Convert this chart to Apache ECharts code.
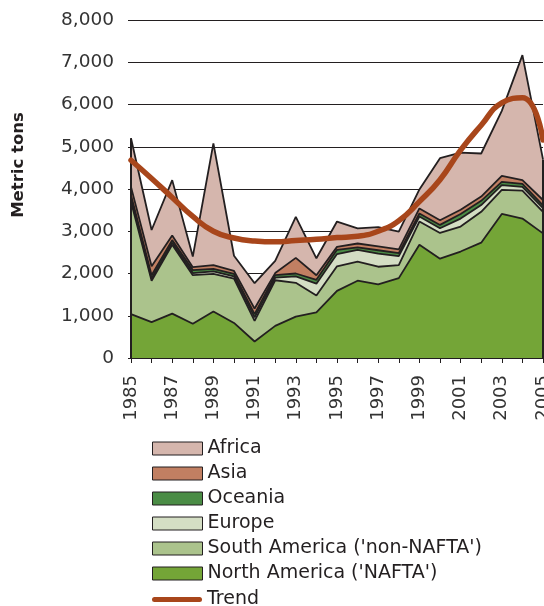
<!DOCTYPE html>
<html>
<head>
<meta charset="utf-8">
<script src="https://cdn.jsdelivr.net/npm/echarts@6/dist/echarts.min.js"></script>
<style>
html,body{margin:0;padding:0;background:#fff;}
#chart{width:544px;height:606px;}
</style>
</head>
<body>
<div id="chart"></div>
<script>
const years = ['1985','1986','1987','1988','1989','1990','1991','1992','1993','1994','1995','1996','1997','1998','1999','2000','2001','2002','2003','2004','2005'];
const northAmerica = [1040, 850, 1050, 810, 1100, 830, 390, 760, 980, 1080, 1590, 1830, 1740, 1890, 2680, 2350, 2520, 2730, 3410, 3300, 2950];
const southAmerica = [2660, 980, 1630, 1150, 890, 1050, 490, 1080, 800, 400, 580, 450, 420, 310, 550, 610, 590, 730, 570, 660, 510];
const europe = [80, 50, 50, 50, 60, 50, 80, 60, 150, 280, 290, 280, 310, 210, 120, 110, 190, 160, 110, 90, 90];
const oceania = [80, 80, 60, 70, 60, 60, 80, 60, 70, 90, 100, 60, 80, 70, 70, 80, 110, 100, 80, 70, 60];
const asia = [190, 210, 110, 70, 90, 70, 130, 50, 370, 110, 70, 90, 90, 90, 120, 110, 100, 100, 140, 90, 130];
const africa = [1150, 860, 1310, 250, 2880, 360, 600, 290, 970, 400, 600, 360, 460, 420, 450, 1470, 1350, 1020, 1540, 2960, 960];
const trend = [4680, 4250, 3800, 3350, 3000, 2840, 2770, 2750, 2780, 2810, 2850, 2880, 3000, 3250, 3700, 4220, 4920, 5510, 6040, 6160, 5160];
const yTicks = [0, 1000, 2000, 3000, 4000, 5000, 6000, 7000, 8000];

const FONT = 'DejaVu Sans';
const OUTLINE = '#231f20';
const colors = {
  africa: '#d5b6ad', asia: '#c17f62', oceania: '#4a8c45',
  europe: '#d4dec4', southAmerica: '#abc38c', northAmerica: '#74a537', trend: '#a8461b'
};

function areaSeries(name, data, color) {
  return {
    name: name, type: 'line', stack: 'total', data: data,
    symbol: 'none', smooth: false,
    lineStyle: { color: OUTLINE, width: 1.8 },
    itemStyle: { color: color, borderColor: OUTLINE },
    areaStyle: { color: color, opacity: 1 },
    emphasis: { disabled: true },
    z: 2
  };
}

const layers = [northAmerica, southAmerica, europe, oceania, asia, africa];
const totals = years.map((_, i) => layers.reduce((s, a) => s + a[i], 0));
const edges = [[0, totals[0]], [years.length - 1, totals[years.length - 1]]];

const legendText = { fontFamily: FONT, fontSize: 19, color: '#231f20' };
function rectItem(name, color) {
  return { name: name, icon: 'rect', itemStyle: { color: color, borderColor: OUTLINE, borderWidth: 1 } };
}

const chart = echarts.init(document.getElementById('chart'), null, { renderer: 'canvas' });
chart.setOption({
  animation: false,
  backgroundColor: '#fff',
  grid: { left: 131, right: 1, top: 20, bottom: 248, containLabel: false, outerBoundsMode: 'none' },
  xAxis: {
    type: 'category', data: years, boundaryGap: false,
    axisLine: { show: true, lineStyle: { color: OUTLINE, width: 1.5 } },
    axisTick: { show: true, length: 5, interval: 0, lineStyle: { color: OUTLINE, width: 1 } },
    axisLabel: { rotate: 90, interval: 1, margin: 17, fontFamily: FONT, fontSize: 18, color: '#333' },
    splitLine: { show: false }
  },
  yAxis: {
    type: 'value', min: yTicks[0], max: yTicks[yTicks.length - 1], interval: 1000,
    axisLine: { show: false },
    axisTick: { show: true, length: 3, lineStyle: { color: OUTLINE, width: 1 } },
    axisLabel: { margin: 17, fontFamily: FONT, fontSize: 18.5, color: '#333',
      formatter: v => v.toLocaleString('en-US') },
    splitLine: { show: true, lineStyle: { color: OUTLINE, width: 1 } }
  },
  graphic: [{
    type: 'text', x: 19, y: 165, rotation: Math.PI / 2, silent: true,
    style: { text: 'Metric tons', fontFamily: FONT, fontSize: 16.5, fontWeight: 'bold',
      fill: '#231f20', align: 'center', verticalAlign: 'middle' }
  }],
  legend: [{
    orient: 'vertical', left: 147, top: 434, itemGap: 6,
    itemWidth: 50, itemHeight: 13, textStyle: legendText, selectedMode: false,
    data: [
      rectItem('Africa', colors.africa),
      rectItem('Asia', colors.asia),
      rectItem('Oceania', colors.oceania),
      rectItem('Europe', colors.europe),
      rectItem("South America ('non-NAFTA')", colors.southAmerica),
      rectItem("North America ('NAFTA')", colors.northAmerica)
    ]
  }, {
    orient: 'vertical', left: 147, top: 585,
    itemWidth: 50, itemHeight: 13, textStyle: legendText, selectedMode: false,
    data: [
      { name: 'Trend', icon: 'path://M2.5,0 L47.5,0 A2.5,2.5 0 0 1 47.5,5 L2.5,5 A2.5,2.5 0 0 1 2.5,0 Z', itemStyle: { color: colors.trend, borderWidth: 0 } }
    ]
  }],
  series: [
    areaSeries("North America ('NAFTA')", northAmerica, colors.northAmerica),
    areaSeries("South America ('non-NAFTA')", southAmerica, colors.southAmerica),
    areaSeries('Europe', europe, colors.europe),
    areaSeries('Oceania', oceania, colors.oceania),
    areaSeries('Asia', asia, colors.asia),
    areaSeries('Africa', africa, colors.africa),
    {
      name: 'edges', type: 'custom', data: edges, encode: { x: 0, y: 1 }, z: 3, silent: true,
      renderItem: function (params, api) {
        const x = api.value(0), v = api.value(1);
        const p0 = api.coord([x, 0]), p1 = api.coord([x, v]);
        return { type: 'line', shape: { x1: p0[0], y1: p0[1], x2: p1[0], y2: p1[1] },
          style: { stroke: OUTLINE, lineWidth: 2 } };
      }
    },
    {
      name: 'Trend', type: 'line', data: trend, smooth: 0.5, symbol: 'none',
      lineStyle: { color: colors.trend, width: 5.5, cap: 'round' },
      itemStyle: { color: colors.trend },
      emphasis: { disabled: true },
      z: 5
    }
  ]
});
</script>
</body>
</html>
